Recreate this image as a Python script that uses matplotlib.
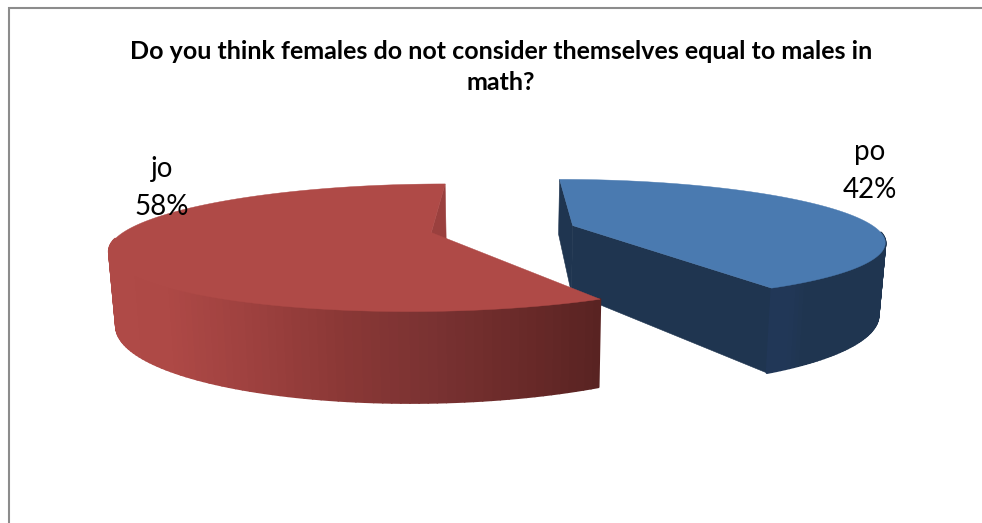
import numpy as np
import matplotlib
matplotlib.use("Agg")
import matplotlib.pyplot as plt
from matplotlib.colors import to_rgb
from matplotlib.patches import Polygon
from matplotlib.lines import Line2D

# Survey answers
answers = ["po", "jo"]
shares = [42, 58]
title_lines = "Do you think females do not consider themselves equal to males in\nmath?"

# Perspective model of the tilted pie
CENTER_X = 503.0
HORIZON_Y = -20.0
SCALE_X = 304.0
TOP_K = 249.0
BOTTOM_K = 317.5
BOTTOM_SHRINK = 0.982
TILT = 0.235
EXPLODE = 0.24


def project(px, py, k=TOP_K, shrink=1.0):
    w = 1.0 + TILT * py
    return CENTER_X + shrink * SCALE_X * px / w, HORIZON_Y + k / w


def lerp_color(x, stops):
    xs = [s[0] for s in stops]
    rgb = np.array([to_rgb(s[1]) for s in stops])
    return tuple(np.interp(x, xs, rgb[:, i]) for i in range(3))


RED_TOP = "#AF4A47"
RED_WALL = "#9A403E"
RED_SIDE = [(109, "#AF4A47"), (165, "#AE4946"), (250, "#9E413F"), (340, "#8B3836"),
            (430, "#7A3232"), (520, "#6A2A29"), (602, "#582322")]
BLUE_TOP = "#4A7AB0"
BLUE_WALL = "#1F3550"
BLUE_SIDE = [(770, "#213757"), (790, "#213757"), (805, "#1F3550"), (885, "#1F3550")]

fig = plt.figure(figsize=(9.82, 5.23), dpi=100, facecolor="white")
ax = fig.add_axes([0, 0, 1, 1])
ax.set_xlim(0, 982)
ax.set_ylim(523, 0)
ax.axis("off")

# Chart frame, open on the right and at the bottom
ax.add_line(Line2D([8, 982], [7.5, 7.5], color="#8C8C8C", lw=1.5, solid_capstyle="butt"))
ax.add_line(Line2D([9, 9], [7, 523], color="#8C8C8C", lw=1.5, solid_capstyle="butt"))

total = sum(shares)
fractions = np.cumsum([0] + shares) / total * 2 * np.pi


def wedge(start, stop, top_color, wall_color, side_stops, walls):
    middle = 0.5 * (start + stop)
    cx, cy = EXPLODE * np.sin(middle), EXPLODE * np.cos(middle)
    angles = np.linspace(start, stop, 160)
    rim_x, rim_y = cx + np.sin(angles), cy + np.cos(angles)

    # Flat walls along the cut radii
    for idx in walls:
        a_top = project(cx, cy)
        a_bot = project(cx, cy, BOTTOM_K, BOTTOM_SHRINK)
        r_top = project(rim_x[idx], rim_y[idx])
        r_bot = project(rim_x[idx], rim_y[idx], BOTTOM_K, BOTTOM_SHRINK)
        ax.add_patch(Polygon([a_top, r_top, r_bot, a_bot], closed=True,
                             fc=wall_color, ec=wall_color, lw=0.4))

    # Curved outer side: only the part of the rim facing the viewer, back to front
    facing = np.where(np.cos(angles[:-1]) < -0.12)[0]
    for i in facing[np.argsort(-rim_y[facing])]:
        t0 = project(rim_x[i], rim_y[i])
        t1 = project(rim_x[i + 1], rim_y[i + 1])
        b1 = project(rim_x[i + 1], rim_y[i + 1], BOTTOM_K, BOTTOM_SHRINK)
        b0 = project(rim_x[i], rim_y[i], BOTTOM_K, BOTTOM_SHRINK)
        col = lerp_color(0.5 * (t0[0] + t1[0]), side_stops)
        ax.add_patch(Polygon([t0, t1, b1, b0], closed=True, fc=col, ec=col, lw=1.6,
                             joinstyle="round"))

    # Top face
    tx, ty = project(rim_x, rim_y)
    pts = [project(cx, cy)] + list(zip(tx, ty))
    ax.add_patch(Polygon(pts, closed=True, fc=top_color, ec=top_color, lw=0.3))


# The blue wedge goes down first so the red wedge's front corner overlaps it
wedge(fractions[0], fractions[1], BLUE_TOP, BLUE_WALL, BLUE_SIDE, walls=[0, -1])
wedge(fractions[1], fractions[2], RED_TOP, RED_WALL, RED_SIDE, walls=[-1])

# Title and data labels
ax.text(501, 67, title_lines, ha="center", va="center", family="Lato", weight="bold",
        fontsize=18, color="black", linespacing=1.4)
label_pos = [(870, 171), (162, 188)]
for name, val, (lx, ly) in zip(answers, shares, label_pos):
    ax.text(lx, ly, f"{name}\n{val}%", ha="center", va="center", family="Lato",
            fontsize=20, color="black", linespacing=1.6)

fig.savefig("out.png", dpi=100, facecolor="white")
